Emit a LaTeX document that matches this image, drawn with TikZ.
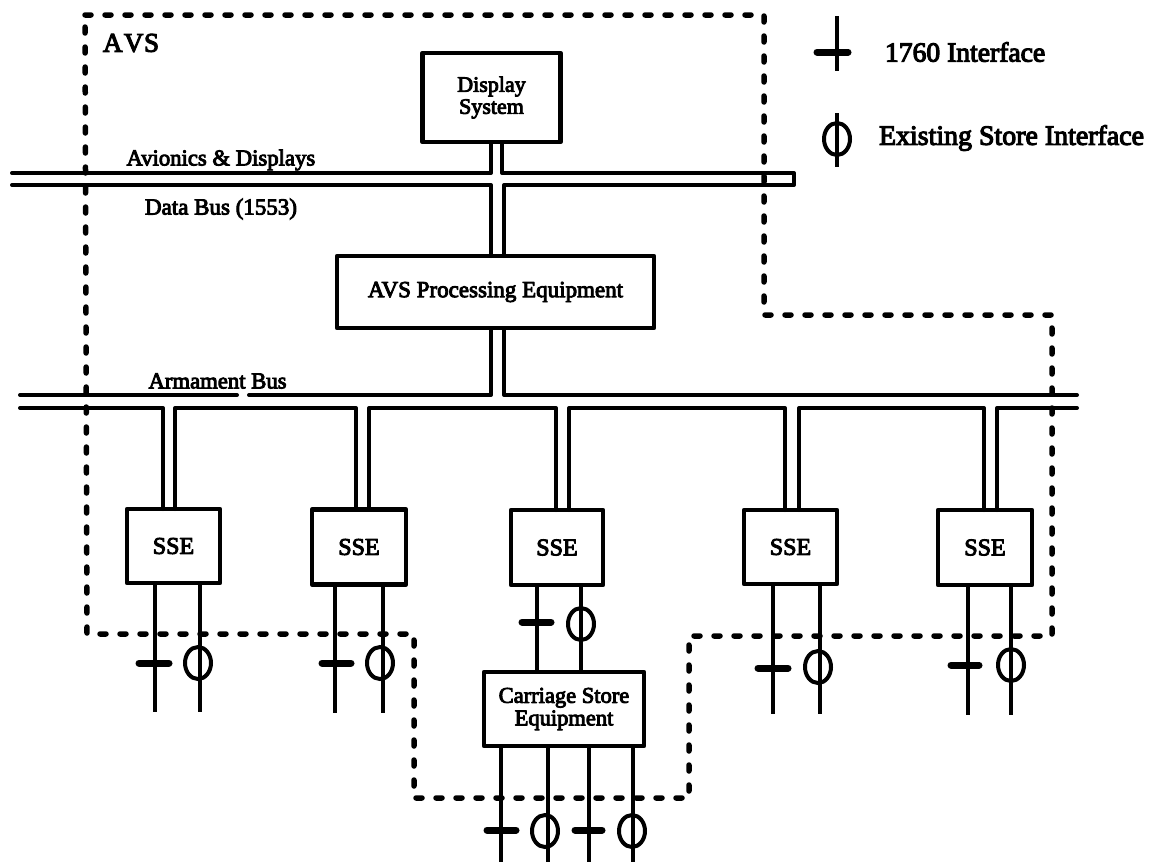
\documentclass[tikz,border=0pt]{standalone}
\usepackage{fontspec}
\setmainfont{Liberation Serif}[FakeBold=4]
\usetikzlibrary{shapes.geometric}
\tikzset{
  box/.style={draw,line width=4.5pt,inner sep=0pt,outer sep=0pt,align=center,line join=round},
  fs/.style={font=\fontsize{#1}{#1}\selectfont},
  label/.style={inner sep=0pt,outer sep=0pt,align=center},
  wire/.style={line width=4pt,line join=round,line cap=round},
  lead/.style={line width=4.2pt,line cap=butt},
  ticksym/.style={line width=7pt,line cap=round},
  phisym/.style={draw,ellipse,line width=4pt,inner sep=0pt,outer sep=0pt,minimum width=26pt,minimum height=32pt},
  avsline/.style={line width=5.5pt,line cap=round,line join=round,dash pattern=on 6pt off 14pt}
}
\begin{document}
\begin{tikzpicture}[x=1pt,y=-1pt]
\useasboundingbox[fill=white] (0,0) rectangle (1150,862);

% boxes
\node[box,fs=22,minimum width=138pt,minimum height=89pt] (display) at (491.5,97.5)
  {\fontsize{22}{23}\selectfont Display\\System};
\node[box,fs=23,minimum width=317pt,minimum height=72pt] (ape) at (495.5,292)
  {\raisebox{4pt}{AVS Processing Equipment}};
\node[box,fs=24,minimum width=93pt,minimum height=74pt] (sse1) at (173.5,546) {SSE};
\node[box,fs=24,minimum width=94pt,minimum height=75pt] (sse2) at (359,547) {SSE};
\node[box,fs=24,minimum width=92pt,minimum height=75pt] (sse3) at (557,547.5) {SSE};
\node[box,fs=24,minimum width=93pt,minimum height=74pt] (sse4) at (790.5,547) {SSE};
\node[box,fs=24,minimum width=94pt,minimum height=75pt] (sse5) at (985,547.5) {SSE};
\node[box,fs=22.5,minimum width=160pt,minimum height=74pt] (carriage) at (564,709)
  {\fontsize{22.5}{26}\selectfont Carriage Store\\Equipment};

% labels
\node[label,fs=27,anchor=west] (avslabel) at (103,43) {A\kern1.5pt V\kern0.5pt S};
\node[label,fs=22.7,anchor=west] (l1) at (126.5,160) {Avionics \& Displays};
\node[label,fs=23,anchor=west] (l2) at (145,209) {Data Bus (1553)};
\node[label,fs=22.7,anchor=west] (l3) at (148.5,381) {Armament Bus};
\node[label,fs=27.6,anchor=west] (l4) at (885,52) {1760 Interface};
\node[label,fs=27.9,anchor=west] (l5) at (879,138) {Existing Store Interface};

% bus coordinates
\coordinate (avL) at (12,173);  \coordinate (avR) at (794,173);
\coordinate (dbL) at (12,185);  \coordinate (dbR) at (794,185);
\coordinate (arL) at (20,395);  \coordinate (arR) at (1077,395);
\coordinate (brL) at (20,408);  \coordinate (brR) at (1077,408);
\coordinate (gapA) at (237,395); \coordinate (gapB) at (249,395);
\coordinate (dA) at (491,0); \coordinate (dB) at (502,0); \coordinate (dC) at (504,0);

% avionics and displays bus
\draw[wire] (avL) -- (avL -| dA) -- (display.south -| dA);
\draw[wire] (display.south -| dB) -- (avL -| dB) -- (avR) -- (dbR) -- (dbL -| dC) -- (ape.north -| dC);
\draw[wire] (dbL) -- (dbL -| dA) -- (ape.north -| dA);

% armament bus
\draw[wire] (arL) -- (gapA);
\draw[wire] (gapB) -- (arL -| dA) -- (ape.south -| dA);
\draw[wire] (ape.south -| dC) -- (arL -| dC) -- (arR);
\coordinate (s1a) at (163,0); \coordinate (s1b) at (175,0);
\coordinate (s2a) at (356,0); \coordinate (s2b) at (369,0);
\coordinate (s3a) at (556,0); \coordinate (s3b) at (569,0);
\coordinate (s4a) at (785,0); \coordinate (s4b) at (799,0);
\coordinate (s5a) at (984,0); \coordinate (s5b) at (997,0);
\draw[wire] (brL) -- (brL -| s1a) -- (sse1.north -| s1a);
\draw[wire] (sse1.north -| s1b) -- (brL -| s1b) -- (brL -| s2a) -- (sse2.north -| s2a);
\draw[wire] (sse2.north -| s2b) -- (brL -| s2b) -- (brL -| s3a) -- (sse3.north -| s3a);
\draw[wire] (sse3.north -| s3b) -- (brL -| s3b) -- (brL -| s4a) -- (sse4.north -| s4a);
\draw[wire] (sse4.north -| s4b) -- (brL -| s4b) -- (brL -| s5a) -- (sse5.north -| s5a);
\draw[wire] (sse5.north -| s5b) -- (brL -| s5b) -- (brR);

% store leads
\coordinate (e1a) at (155,712); \coordinate (e1b) at (200,712);
\coordinate (e2a) at (335,713); \coordinate (e2b) at (383,713);
\coordinate (e4a) at (773,714); \coordinate (e4b) at (820,714);
\coordinate (e5a) at (968,715); \coordinate (e5b) at (1011,715);
\coordinate (e3a) at (537,0); \coordinate (e3b) at (581,0);
\coordinate (c1) at (501,862); \coordinate (c2) at (548,862);
\coordinate (c3) at (589,862); \coordinate (c4) at (633,862);
\draw[lead] (sse1.south -| e1a) -- (e1a);
\draw[lead] (sse1.south -| e1b) -- (e1b);
\draw[lead] (sse2.south -| e2a) -- (e2a);
\draw[lead] (sse2.south -| e2b) -- (e2b);
\draw[lead] (sse4.south -| e4a) -- (e4a);
\draw[lead] (sse4.south -| e4b) -- (e4b);
\draw[lead] (sse5.south -| e5a) -- (e5a);
\draw[lead] (sse5.south -| e5b) -- (e5b);
\draw[lead] (sse3.south -| e3a) -- (carriage.north -| e3a);
\draw[lead] (sse3.south -| e3b) -- (carriage.north -| e3b);
\draw[lead] (carriage.south -| c1) -- (c1);
\draw[lead] (carriage.south -| c2) -- (c2);
\draw[lead] (carriage.south -| c3) -- (c3);
\draw[lead] (carriage.south -| c4) -- (c4);

% 1760 interface marks
\draw[ticksym] (139,663) -- (169,663);
\draw[ticksym] (322,663) -- (351,663);
\draw[ticksym] (522,622) -- (551,622);
\draw[ticksym] (758,668) -- (788,668);
\draw[ticksym] (951,665) -- (979,665);
\draw[ticksym] (487,830) -- (516,830);
\draw[ticksym] (575,830) -- (602,830);

% existing store interface marks
\node[phisym] (p1) at (198,663) {};
\node[phisym] (p2) at (380,663) {};
\node[phisym] (p3) at (581,624) {};
\node[phisym] (p4) at (818,667) {};
\node[phisym] (p5) at (1011,665) {};
\node[phisym] (p6) at (545,831) {};
\node[phisym] (p7) at (632,831) {};

% legend
\coordinate (lg1) at (837,16); \coordinate (lg2) at (837,71);
\draw[lead] (lg1) -- (lg2);
\draw[ticksym] (817,52) -- (848,52);
\coordinate (lg3) at (837,113); \coordinate (lg4) at (837,167);
\draw[lead] (lg3) -- (lg4);
\node[phisym] (p8) at (837,139) {};

% AVS boundary
\draw[avsline] (85,15) -- (764,15) -- (764,315) -- (1052,315) -- (1052,636)
  -- (689,636) -- (689,798) -- (414,798) -- (414,634) -- (87,634) -- cycle;
\end{tikzpicture}
\end{document}
